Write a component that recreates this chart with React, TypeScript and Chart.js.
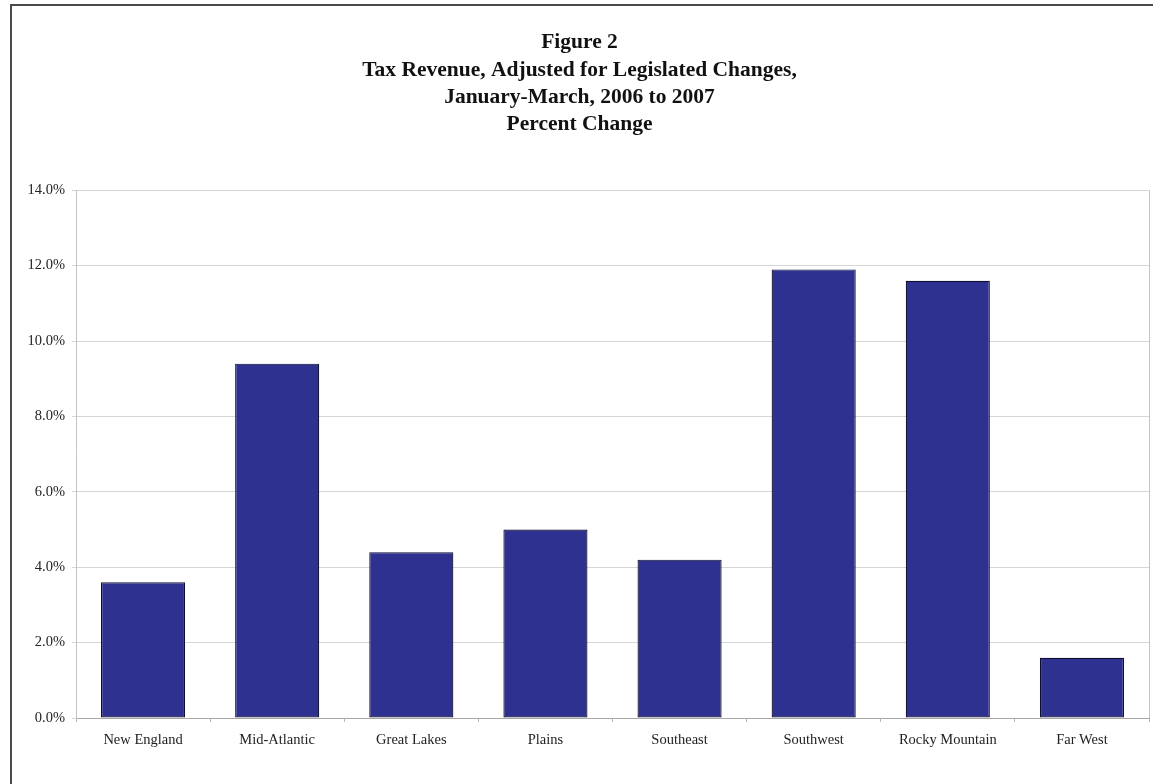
import React, { useEffect, useRef } from "react";
import { Chart, registerables } from "chart.js";

Chart.register(...registerables);

const titleLines = [
  "Figure 2",
  "Tax Revenue, Adjusted for Legislated Changes,",
  "January-March, 2006 to 2007",
  "Percent Change",
];
const categories = [
  "New England",
  "Mid-Atlantic",
  "Great Lakes",
  "Plains",
  "Southeast",
  "Southwest",
  "Rocky Mountain",
  "Far West",
];
const percentChange = [3.6, 9.4, 4.4, 5.0, 4.2, 11.9, 11.6, 1.6];
const yMin = 0;
const yMax = 14;
const yStep = 2;

const framePlugin = {
  id: "frame",
  afterDraw(chart: any) {
    const { ctx, chartArea } = chart;
    ctx.save();
    ctx.strokeStyle = "#c4c4c4";
    ctx.lineWidth = 1;
    ctx.beginPath();
    ctx.moveTo(Math.round(chartArea.right) + 0.5, chartArea.top);
    ctx.lineTo(Math.round(chartArea.right) + 0.5, chartArea.bottom);
    ctx.stroke();
    ctx.restore();
  },
};

export default function App() {
  const ref = useRef<HTMLCanvasElement | null>(null);
  useEffect(() => {
    if (!ref.current) return;
    const serif = "'Liberation Serif', 'Times New Roman', serif";
    const chart = new Chart(ref.current, {
      type: "bar",
      data: {
        labels: categories,
        datasets: [
          {
            data: percentChange,
            backgroundColor: "#2e3190",
            borderColor: "#0e0e2e",
            borderWidth: 1.2,
            borderSkipped: false,
            barPercentage: 0.627,
            categoryPercentage: 1,
          },
        ],
      },
      options: {
        animation: false,
        responsive: false,
        maintainAspectRatio: false,
        layout: { padding: { left: 10, right: 4, top: 0, bottom: 0 } },
        plugins: {
          legend: { display: false },
          tooltip: { enabled: false },
          title: {
            display: true,
            text: titleLines,
            color: "#111",
            font: { family: serif, size: 21.5, weight: "bold", lineHeight: 1.27 },
            padding: { top: 29, bottom: 52 },
          },
        },
        scales: {
          x: {
            offset: true,
            grid: {
              display: true,
              drawOnChartArea: false,
              offset: true,
              tickLength: 4,
              color: "#b8b8b8",
            },
            border: { display: true, color: "#a8a8a8" },
            ticks: {
              color: "#222",
              padding: 9,
              font: { family: serif, size: 14.5 },
              maxRotation: 0,
              autoSkip: false,
            },
            afterFit(scale: any) {
              scale.height = 66;
            },
          },
          y: {
            min: yMin,
            max: yMax,
            grid: { color: "#d6d6d6", tickLength: 4 },
            border: { display: true, color: "#c4c4c4" },
            ticks: {
              stepSize: yStep,
              color: "#222",
              padding: 7,
              font: { family: serif, size: 14.5 },
              callback: (v: any) => Number(v).toFixed(1) + "%",
            },
            afterFit(scale: any) {
              scale.width = 66;
            },
          },
        },
      },
      plugins: [framePlugin],
    });
    return () => chart.destroy();
  }, []);

  return (
    <div
      style={{
        position: "fixed",
        left: 0,
        top: 0,
        width: 1153,
        height: 784,
        background: "#fff",
        overflow: "hidden",
      }}
    >
      <div
        style={{
          position: "absolute",
          left: 10,
          top: 4,
          width: 1400,
          height: 1000,
          border: "2px solid #4a4a4a",
          boxSizing: "border-box",
        }}
      />
      <canvas
        ref={ref}
        width={1153}
        height={784}
        style={{ position: "absolute", left: 0, top: 0, width: 1153, height: 784 }}
      />
    </div>
  );
}
